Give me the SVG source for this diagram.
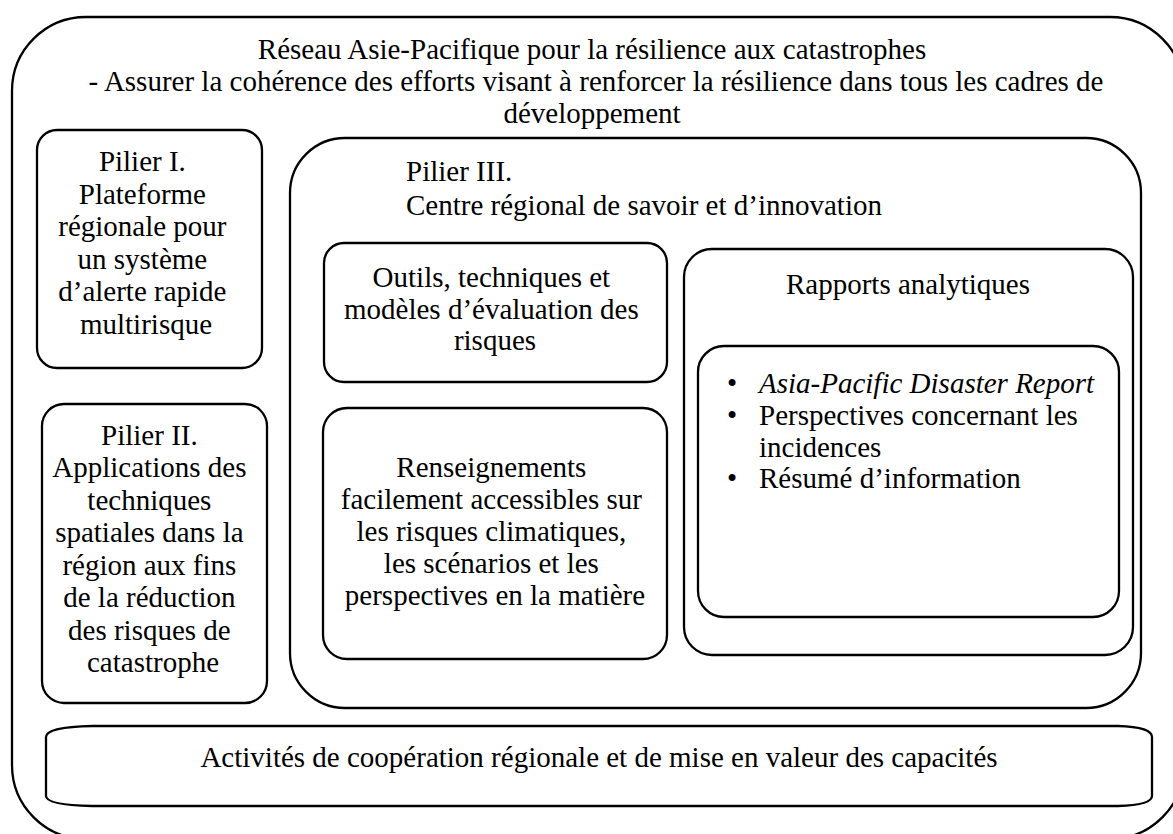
<svg xmlns="http://www.w3.org/2000/svg" width="1173" height="834" viewBox="0 0 1173 834">
  <style>
    .box { fill: none; stroke: #000; stroke-width: 2.3; }
    .t { font-family: "Liberation Serif", "Times New Roman", serif; font-size: 29px; fill: #000; }
    .c { text-anchor: middle; }
    .i { font-style: italic; }
  </style>
  <rect width="1173" height="834" fill="#fff"/>

  <g id="network">
    <rect class="box" x="12" y="17" width="1172" height="822" rx="74" ry="74"/>
    <text class="t c" x="592" y="59">Réseau Asie-Pacifique pour la résilience aux catastrophes</text>
    <text class="t c" x="596" y="91">- Assurer la cohérence des efforts visant à renforcer la résilience dans tous les cadres de</text>
    <text class="t c" x="592" y="123">développement</text>
  </g>

  <g id="pilier1">
    <rect class="box" x="37" y="130" width="225" height="238" rx="20" ry="20"/>
    <text class="t c" x="146">
      <tspan x="146" y="171">Pilier I.</tspan>
      <tspan x="146" y="204">Plateforme</tspan>
      <tspan x="146" y="236">régionale pour</tspan>
      <tspan x="146" y="269">un système</tspan>
      <tspan x="146" y="301">d’alerte rapide</tspan>
      <tspan x="146" y="334">multirisque</tspan>
    </text>
  </g>

  <g id="pilier2">
    <rect class="box" x="42" y="404" width="225" height="299" rx="22" ry="22"/>
    <text class="t c" x="153">
      <tspan x="153" y="445">Pilier II.</tspan>
      <tspan x="153" y="477">Applications des</tspan>
      <tspan x="153" y="510">techniques</tspan>
      <tspan x="153" y="542">spatiales dans la</tspan>
      <tspan x="153" y="575">région aux fins</tspan>
      <tspan x="153" y="607">de la réduction</tspan>
      <tspan x="153" y="640">des risques de</tspan>
      <tspan x="153" y="672">catastrophe</tspan>
    </text>
  </g>

  <g id="pilier3">
    <rect class="box" x="290" y="138" width="851" height="570" rx="55" ry="55"/>
    <text class="t" x="406" y="181">Pilier III.</text>
    <text class="t" x="406" y="215">Centre régional de savoir et d’innovation</text>
  </g>

  <g id="outils">
    <rect class="box" x="324" y="243" width="343" height="139" rx="20" ry="20"/>
    <text class="t c" x="495">
      <tspan x="495" y="287">Outils, techniques et</tspan>
      <tspan x="495" y="319">modèles d’évaluation des</tspan>
      <tspan x="495" y="350">risques</tspan>
    </text>
  </g>

  <g id="renseignements">
    <rect class="box" x="323" y="408" width="344" height="251" rx="24" ry="24"/>
    <text class="t c" x="495">
      <tspan x="495" y="477">Renseignements</tspan>
      <tspan x="495" y="509">facilement accessibles sur</tspan>
      <tspan x="495" y="541">les risques climatiques,</tspan>
      <tspan x="495" y="573">les scénarios et les</tspan>
      <tspan x="495" y="605">perspectives en la matière</tspan>
    </text>
  </g>

  <g id="rapports">
    <rect class="box" x="684" y="249" width="449" height="406" rx="28" ry="28"/>
    <text class="t c" x="908" y="294">Rapports analytiques</text>
  </g>

  <g id="liste-rapports">
    <rect class="box" x="698" y="346" width="421" height="271" rx="26" ry="26"/>
    <text class="t" x="727" y="393">•</text>
    <text class="t i" x="759" y="393">Asia-Pacific Disaster Report</text>
    <text class="t" x="727" y="425">•</text>
    <text class="t" x="759" y="425">Perspectives concernant les</text>
    <text class="t" x="759" y="457">incidences</text>
    <text class="t" x="727" y="488">•</text>
    <text class="t" x="759" y="488">Résumé d’information</text>
  </g>

  <g id="cooperation">
    <path class="box" d="M 92,726 H 1118 Q 1152,727 1152,737 V 796 Q 1152,805 1118,806 H 92 Q 46,805 46,796 V 737 Q 46,727 92,726 Z"/>
    <text class="t c" x="599" y="767">Activités de coopération régionale et de mise en valeur des capacités</text>
  </g>

  <g id="connectors"/>
</svg>
